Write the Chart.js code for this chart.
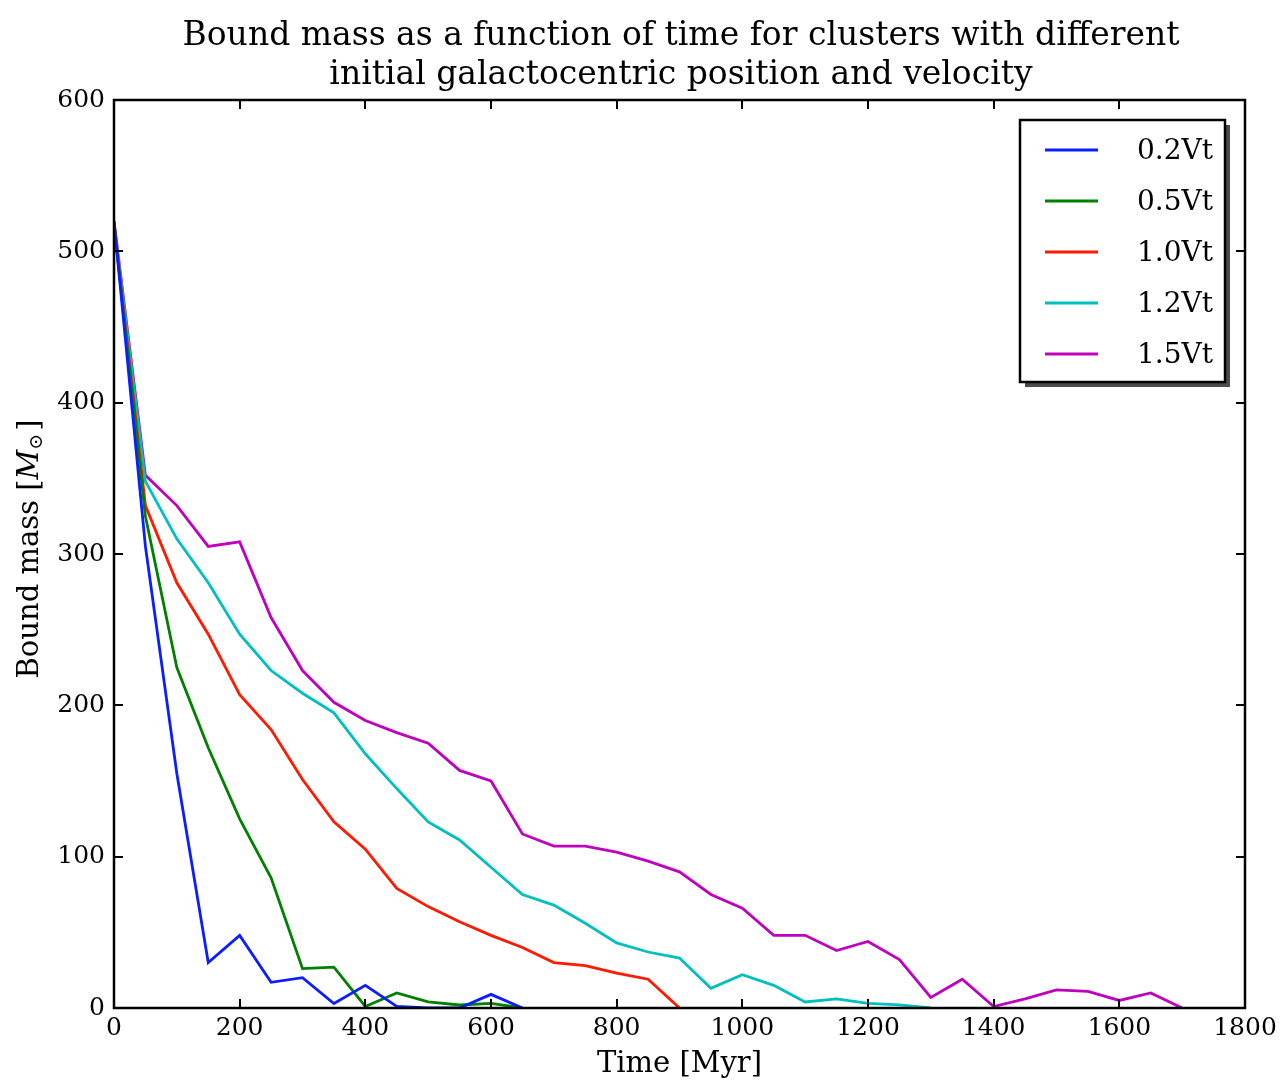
<!DOCTYPE html>
<html>
<head>
<meta charset="utf-8">
<script src="https://cdn.jsdelivr.net/npm/chart.js@4.4.1/dist/chart.umd.min.js"></script>
<style>
  html, body { margin: 0; padding: 0; background: #ffffff; }
  #wrap { width: 1282px; height: 1080px; }
</style>
</head>
<body>
<div id="wrap"><canvas id="c" width="1282" height="1080"></canvas></div>
<script>
// ---- data ----
const titleLines = ['Bound mass as a function of time for clusters with different',
                    'initial galactocentric position and velocity'];
const xLabel = 'Time [Myr]';
const seriesLabels = ['0.2Vt', '0.5Vt', '1.0Vt', '1.2Vt', '1.5Vt'];
const times = [0, 50, 100, 150, 200, 250, 300, 350, 400, 450, 500, 550, 600, 650, 700, 750, 800, 850,
               900, 950, 1000, 1050, 1100, 1150, 1200, 1250, 1300, 1350, 1400, 1450, 1500, 1550, 1600, 1650, 1700];
const mass02 = [520, 305, 155, 30, 48, 17, 20, 3, 15, 1, 0, 0, 9, 0];
const mass05 = [518, 325, 225, 172, 125, 86, 26, 27, 1, 10, 4, 2, 3, 0];
const mass10 = [518, 332, 281, 247, 207, 184, 151, 123, 105, 79, 67, 57, 48, 40, 30, 28, 23, 19, 0];
const mass12 = [518, 348, 310, 281, 247, 223, 208, 195, 168, 145, 123, 111, 93, 75, 68, 56, 43, 37, 33,
                13, 22, 15, 4, 6, 3, 2, 0];
const mass15 = [520, 352, 332, 305, 308, 258, 223, 202, 190, 182, 175, 157, 150, 115, 107, 107, 103, 97, 90,
                75, 66, 48, 48, 38, 44, 32, 7, 19, 1, 6, 12, 11, 5, 10, 0];
const xTicks = [0, 200, 400, 600, 800, 1000, 1200, 1400, 1600, 1800];
const yTicks = [0, 100, 200, 300, 400, 500, 600];
const colors = ['#0a1eff', '#008000', '#ff1a00', '#00bfbf', '#bf00bf'];

const FONT = '"DejaVu Serif", "Liberation Serif", serif';
const allSeries = [mass02, mass05, mass10, mass12, mass15];

const datasets = allSeries.map((arr, i) => ({
  label: seriesLabels[i],
  data: arr.map((v, k) => ({ x: times[k], y: v })),
  borderColor: colors[i],
  backgroundColor: colors[i],
  borderWidth: 2.8,
  pointRadius: 0,
  tension: 0,
  fill: false
}));

const framePlugin = {
  id: 'frame',
  afterDatasetsDraw(chart) {
    const ctx = chart.ctx;
    const a = chart.chartArea;
    const xs = chart.scales.x, ys = chart.scales.y;
    ctx.save();
    ctx.strokeStyle = '#000';
    ctx.lineWidth = 2.5;
    ctx.strokeRect(a.left, a.top, a.right - a.left, a.bottom - a.top);
    ctx.lineWidth = 2;
    const tl = 9;
    ctx.beginPath();
    xTicks.forEach(v => {
      const px = Math.round(xs.getPixelForValue(v));
      ctx.moveTo(px, a.bottom); ctx.lineTo(px, a.bottom - tl);
      ctx.moveTo(px, a.top); ctx.lineTo(px, a.top + tl);
    });
    yTicks.forEach(v => {
      const py = Math.round(ys.getPixelForValue(v));
      ctx.moveTo(a.left, py); ctx.lineTo(a.left + tl, py);
      ctx.moveTo(a.right, py); ctx.lineTo(a.right - tl, py);
    });
    ctx.stroke();
    ctx.restore();
  },
  afterDraw(chart) {
    const ctx = chart.ctx;
    const a = chart.chartArea;
    ctx.save();
    // title
    ctx.fillStyle = '#000';
    ctx.textAlign = 'center';
    ctx.textBaseline = 'alphabetic';
    ctx.font = '33px ' + FONT;
    const cx = 681;
    ctx.fillText(titleLines[0], cx, 45);
    ctx.fillText(titleLines[1], cx, 84);

    // y axis title, with italic M and subscript sun symbol
    ctx.translate(30, 549);
    ctx.rotate(-Math.PI / 2);
    const p1 = 'Bound mass [', p2 = 'M', p3 = '\u2299', p4 = ']';
    const fMain = '29px ' + FONT, fIt = 'italic 29px ' + FONT, fSub = '19px ' + FONT;
    ctx.font = fMain; const w1 = ctx.measureText(p1).width; const w4 = ctx.measureText(p4).width;
    ctx.font = fIt; const w2 = ctx.measureText(p2).width;
    ctx.font = fSub; const w3 = ctx.measureText(p3).width;
    let x0 = -(w1 + w2 + w3 + w4 + 3) / 2;
    ctx.textAlign = 'left';
    ctx.textBaseline = 'middle';
    ctx.font = fMain; ctx.fillText(p1, x0, 0); x0 += w1;
    ctx.font = fIt; ctx.fillText(p2, x0, 0); x0 += w2;
    ctx.font = fSub; ctx.fillText(p3, x0, 7); x0 += w3 + 3;
    ctx.font = fMain; ctx.fillText(p4, x0, 0);
    ctx.restore();

    // legend
    ctx.save();
    const L = 1020, T = 120, W = 205, H = 262;
    ctx.fillStyle = '#4a4a4a';
    ctx.fillRect(L + 5, T + 5, W, H);
    ctx.fillStyle = '#fff';
    ctx.fillRect(L, T, W, H);
    ctx.strokeStyle = '#000';
    ctx.lineWidth = 2.5;
    ctx.strokeRect(L, T, W, H);
    ctx.font = '28px ' + FONT;
    ctx.textAlign = 'right';
    ctx.textBaseline = 'middle';
    chart.data.datasets.forEach((ds, i) => {
      const y = 150 + i * 51;
      ctx.strokeStyle = ds.borderColor;
      ctx.lineWidth = 2.8;
      ctx.beginPath(); ctx.moveTo(1045, y); ctx.lineTo(1098, y); ctx.stroke();
      ctx.fillStyle = '#000';
      ctx.fillText(ds.label, 1213, y + 2);
    });
    ctx.restore();
  }
};

Chart.defaults.font.family = FONT;
Chart.defaults.color = '#000';

new Chart(document.getElementById('c'), {
  type: 'line',
  data: { datasets },
  options: {
    responsive: false,
    animation: false,
    devicePixelRatio: 1,
    layout: { padding: { left: 0, right: 37, top: 100, bottom: 0 } },
    plugins: { legend: { display: false }, tooltip: { enabled: false }, title: { display: false } },
    scales: {
      x: {
        type: 'linear', min: 0, max: 1800,
        afterBuildTicks(s) { s.ticks = xTicks.map(v => ({ value: v })); },
        afterFit(s) { s.height = 72; },
        grid: { display: false, drawTicks: false },
        border: { display: false },
        ticks: { font: { size: 25 }, color: '#000', padding: 5, maxRotation: 0, autoSkip: false,
                 callback: v => String(v) },
        title: { display: true, text: xLabel, font: { size: 29 }, color: '#000', padding: { top: 0, bottom: -2 } }
      },
      y: {
        type: 'linear', min: 0, max: 600,
        afterBuildTicks(s) { s.ticks = yTicks.map(v => ({ value: v })); },
        afterFit(s) { s.width = 114; },
        grid: { display: false, drawTicks: false },
        border: { display: false },
        ticks: { font: { size: 25 }, color: '#000', padding: 9, autoSkip: false, callback: v => String(v) }
      }
    }
  },
  plugins: [framePlugin]
});
</script>
</body>
</html>
